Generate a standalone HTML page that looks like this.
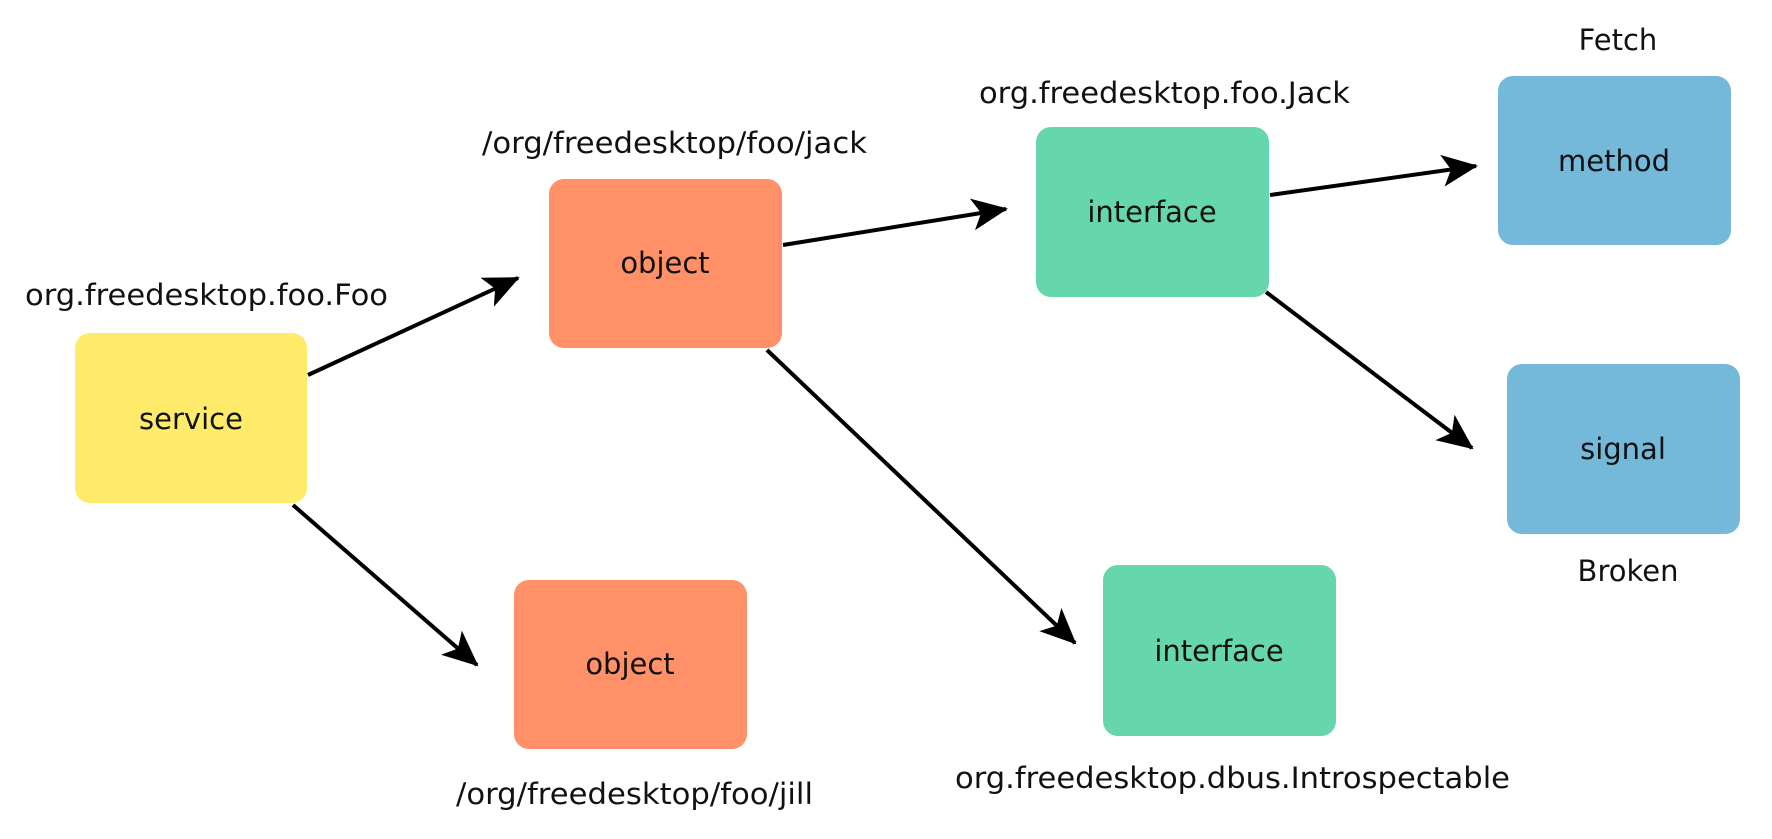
<!DOCTYPE html>
<html><head><meta charset="utf-8"><style>html,body{margin:0;padding:0;background:#fff}svg{display:block}text{font-family:"DejaVu Sans","Liberation Sans",sans-serif;font-size:29px;fill:#111}</style></head>
<body>
<svg width="1772" height="839" viewBox="0 0 1772 839" xmlns="http://www.w3.org/2000/svg">
<defs><marker id="a" markerWidth="10" markerHeight="8" refX="8.5" refY="4" orient="auto" markerUnits="strokeWidth"><path d="M0,0 L9,4 L0,8 L2.2,4 Z" fill="#000"/></marker></defs>
<g stroke="#000" stroke-width="4" marker-end="url(#a)">
<line x1="308" y1="375" x2="518" y2="278"/>
<line x1="783" y1="245" x2="1006" y2="209"/>
<line x1="1270" y1="195" x2="1476" y2="166"/>
<line x1="1266" y1="292" x2="1472" y2="448"/>
<line x1="767" y1="350" x2="1075" y2="643"/>
<line x1="293" y1="505" x2="477" y2="665"/>
</g>
<rect x="75" y="333" width="232" height="170" rx="15" fill="#FEEB6A"/>
<rect x="549" y="179" width="233" height="169" rx="15" fill="#FF9068"/>
<rect x="514" y="580" width="233" height="169" rx="15" fill="#FF9068"/>
<rect x="1036" y="127" width="233" height="170" rx="15" fill="#66D6AC"/>
<rect x="1103" y="565" width="233" height="171" rx="15" fill="#66D6AC"/>
<rect x="1498" y="76" width="233" height="169" rx="15" fill="#74B8DA"/>
<rect x="1507" y="364" width="233" height="170" rx="15" fill="#74B8DA"/>
<g text-anchor="middle">
<text x="191" y="429">service</text>
<text x="665" y="273">object</text>
<text x="630" y="674">object</text>
<text x="1152" y="222">interface</text>
<text x="1219" y="661">interface</text>
<text x="1614" y="171">method</text>
<text x="1623" y="459">signal</text>
<text x="1618" y="50">Fetch</text>
<text x="1628" y="581">Broken</text>
</g>
<text x="25" y="305" textLength="363" lengthAdjust="spacingAndGlyphs">org.freedesktop.foo.Foo</text>
<text x="482" y="153" textLength="385" lengthAdjust="spacingAndGlyphs">/org/freedesktop/foo/jack</text>
<text x="979" y="103" textLength="371" lengthAdjust="spacingAndGlyphs">org.freedesktop.foo.Jack</text>
<text x="456" y="804" textLength="357" lengthAdjust="spacingAndGlyphs">/org/freedesktop/foo/jill</text>
<text x="955" y="788" textLength="555" lengthAdjust="spacingAndGlyphs">org.freedesktop.dbus.Introspectable</text>
</svg>
</body></html>
